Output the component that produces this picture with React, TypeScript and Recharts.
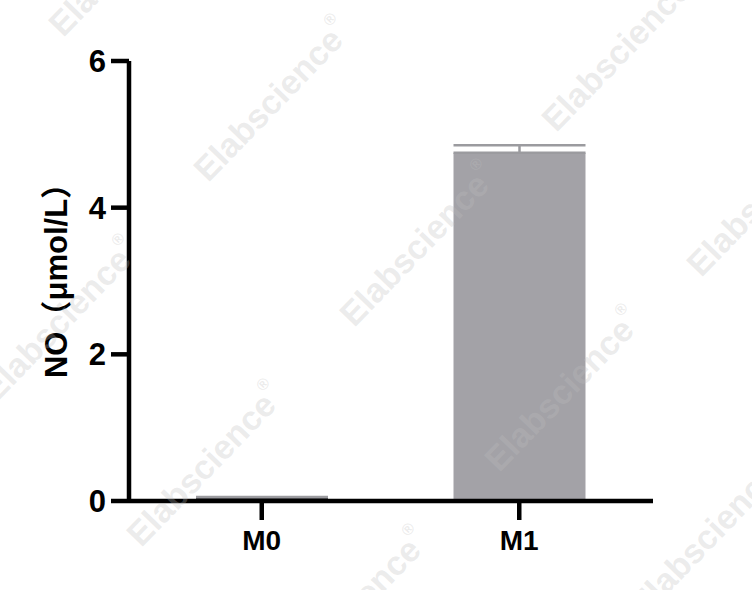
import React from 'react';
import { BarChart, Bar, XAxis, YAxis, ErrorBar, Cell } from 'recharts';

const categories = ['M0', 'M1'];
const means = [0.05, 4.75];
const errorsUp = [0.005, 0.1];
const barColors = ['#000000', '#a3a2a7'];
const yTicks = [0, 2, 4, 6];
const yLabel = 'NO（μmol/L）';

const watermarkCenters: [number, number][] = [
  [127, -45], [272, 100], [418, 245], [563, 390], [708, 535],
  [620, 50], [765, 195],
  [60, 320], [205, 465], [350, 610],
];

const data = categories.map((c, i) => ({
  name: c,
  value: means[i],
  err: [0, errorsUp[i]],
}));

const FONT = '"Liberation Sans", Arial, "Noto Sans CJK SC", sans-serif';

const YLabel = (props: any) => {
  const vb = props.viewBox || {};
  const cx = vb.x + 6;
  const cy = vb.y + vb.height / 2 - 8;
  return (
    <text
      x={cx}
      y={cy}
      transform={`rotate(-90, ${cx}, ${cy})`}
      textAnchor="middle"
      dominantBaseline="central"
      fontFamily={FONT}
      fontWeight="bold"
      fontSize={31}
      fill="#000"
    >
      {yLabel}
    </text>
  );
};

export default function App() {
  return (
    <div style={{ position: 'absolute', left: 0, top: 0, width: 752, height: 590, background: '#fff' }}>
      <BarChart
        width={752}
        height={590}
        data={data}
        margin={{ top: 61, right: 99, left: 50, bottom: 29 }}
      >
        <XAxis
          dataKey="name"
          height={60}
          padding={{ left: 4, right: 5 }}
          axisLine={{ stroke: '#000', strokeWidth: 4.5 }}
          tickLine={{ stroke: '#000', strokeWidth: 4.5 }}
          tickSize={19}
          tickMargin={10}
          tick={{ fill: '#000', fontSize: 28, fontWeight: 'bold', fontFamily: FONT }}
        />
        <YAxis
          width={79}
          domain={[0, 6]}
          ticks={yTicks}
          interval={0}
          axisLine={{ stroke: '#000', strokeWidth: 4.5 }}
          tickLine={{ stroke: '#000', strokeWidth: 4.5 }}
          tickSize={18}
          tickMargin={5}
          tick={{ fill: '#000', fontSize: 31, fontWeight: 'bold', fontFamily: FONT }}
          label={<YLabel />}
        />
        <Bar dataKey="value" barSize={132} isAnimationActive={false}>
          {data.map((d, i) => (
            <Cell key={d.name} fill={barColors[i]} />
          ))}
          <ErrorBar dataKey="err" direction="y" width={66} stroke="#9b9b9f" strokeWidth={2.5} />
        </Bar>
      </BarChart>
      <svg
        width={752}
        height={590}
        style={{ position: 'absolute', left: 0, top: 0, pointerEvents: 'none' }}
      >
        {watermarkCenters.map(([x, y], i) => (
          <text
            key={i}
            x={x}
            y={y}
            transform={`rotate(-46, ${x}, ${y})`}
            textAnchor="middle"
            dominantBaseline="central"
            fontFamily={FONT}
            fontWeight="bold"
            fontSize={34}
            fill="#bebebe"
            fillOpacity={0.3}
          >
            Elabscience
            <tspan fontSize={16} dy={-15}>®</tspan>
          </text>
        ))}
      </svg>
    </div>
  );
}
